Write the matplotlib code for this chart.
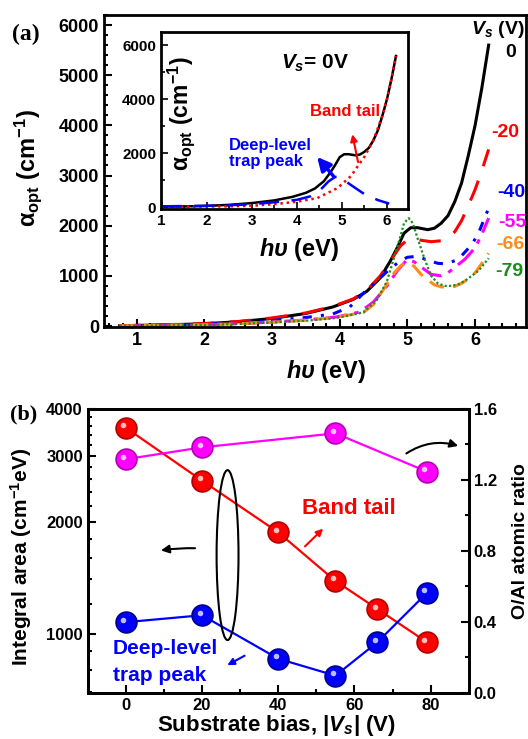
import matplotlib
matplotlib.use("Agg")
import matplotlib.pyplot as plt
import matplotlib.transforms as mtransforms
from matplotlib.patches import Ellipse
from matplotlib.ticker import MultipleLocator, FixedLocator, NullFormatter
import numpy as np

plt.rcParams['font.family'] = ['Liberation Sans', 'DejaVu Sans']
plt.rcParams['font.weight'] = 'bold'
plt.rcParams['axes.labelweight'] = 'bold'
plt.rcParams['mathtext.fontset'] = 'custom'
plt.rcParams['mathtext.rm'] = 'Liberation Sans:bold'
plt.rcParams['mathtext.bf'] = 'Liberation Sans:bold'
plt.rcParams['mathtext.it'] = 'Liberation Sans:italic:bold'
plt.rcParams['axes.linewidth'] = 2.0

# ---------------- data, panel (a) ----------------
# absorption spectra for each substrate bias (eV, cm^-1)
x_0 = [0.75, 1.0, 1.5, 2.0, 2.5, 3.0, 3.5, 3.9, 4.2, 4.4, 4.6, 4.75, 4.85, 4.95, 5.05, 5.15, 5.3, 5.4,
       5.5, 5.6, 5.7, 5.8, 5.9, 6.0, 6.1, 6.2]
y_0 = [5, 12, 25, 45, 85, 150, 250, 380, 530, 690, 960, 1300, 1560, 1850, 1960, 1960, 1920, 1950,
       2050, 2200, 2480, 2850, 3400, 4000, 4750, 5600]

x_20 = [0.75, 1.0, 1.5, 2.0, 2.5, 3.0, 3.5, 3.9, 4.2, 4.4, 4.6, 4.75, 4.9, 5.0, 5.1, 5.2, 5.35, 5.5,
        5.6, 5.7, 5.8, 5.9, 6.0, 6.1, 6.2]
y_20 = [5, 12, 28, 50, 90, 160, 260, 390, 540, 710, 1000, 1300, 1600, 1720, 1740, 1710, 1680, 1700,
        1760, 1880, 2100, 2400, 2720, 3100, 3520]

x_40 = [0.75, 1.0, 1.5, 2.0, 2.5, 3.0, 3.5, 3.9, 4.15, 4.4, 4.6, 4.75, 4.9, 5.0, 5.15, 5.3, 5.45,
        5.55, 5.7, 5.8, 5.95, 6.05, 6.2]
y_40 = [5, 10, 20, 35, 60, 110, 170, 240, 380, 720, 960, 1150, 1300, 1370, 1390, 1310, 1250,
        1240, 1300, 1400, 1620, 1850, 2350]

x_55 = [0.75, 1.0, 1.5, 2.0, 2.5, 3.0, 3.5, 3.95, 4.3, 4.5, 4.7, 4.85, 5.0, 5.1, 5.25, 5.35, 5.5,
        5.6, 5.7, 5.85, 6.0, 6.1, 6.2]
y_55 = [3, 8, 15, 25, 45, 80, 120, 180, 280, 480, 800, 1100, 1330, 1280, 1130, 1030, 1000,
        1060, 1170, 1330, 1560, 1830, 2150]

x_66 = [0.75, 1.0, 1.5, 2.0, 2.5, 3.0, 3.5, 3.95, 4.35, 4.5, 4.65, 4.8, 4.9, 5.0, 5.1, 5.2, 5.3,
        5.4, 5.5, 5.6, 5.7, 5.8, 5.9, 6.0, 6.1, 6.2]
y_66 = [3, 8, 15, 25, 45, 75, 115, 175, 272, 430, 735, 1050, 1200, 1270, 1190, 1030, 920,
        820, 780, 770, 790, 850, 940, 1060, 1250, 1450]

x_79 = [0.75, 1.0, 1.5, 2.0, 2.5, 3.0, 3.5, 3.95, 4.35, 4.55, 4.7, 4.8, 4.9, 4.95, 5.02, 5.08,
        5.15, 5.25, 5.35, 5.45, 5.55, 5.65, 5.75, 5.85, 5.95, 6.05, 6.2]
y_79 = [3, 8, 14, 22, 40, 70, 105, 160, 270, 520, 900, 1350, 1800, 2050, 2150, 2050,
        1750, 1350, 1000, 850, 800, 800, 830, 900, 1000, 1100, 1350]

# inset: decomposition of the 0 V spectrum
x_tail = [1.0, 1.5, 2.0, 2.5, 3.0, 3.5, 4.0, 4.45, 4.9, 5.2, 5.5, 5.7, 5.9, 6.0, 6.1, 6.2]
y_tail = [5, 10, 20, 30, 50, 110, 200, 333, 704, 1150, 1870, 2480, 3400, 4000, 4750, 5600]
x_trap = [1.0, 1.5, 2.0, 2.5, 3.0, 3.5, 4.0, 4.3, 4.5, 4.7, 4.85, 4.95, 5.2, 5.5, 5.8, 6.05]
y_trap = [30, 40, 50, 70, 110, 180, 270, 400, 600, 950, 1120, 1110, 820, 480, 260, 130]

# ---------------- data, panel (b) ----------------
bias = [0, 20, 40, 55, 66, 79]
band_tail_area = [3565, 2574, 1871, 1387, 1167, 951]
trap_area = [1076, 1123, 859, 774, 951, 1289]
bias_oal = [0, 20, 55, 79]
o_al_ratio = [1.317, 1.384, 1.463, 1.247]

fig = plt.figure(figsize=(5.28, 7.39), dpi=100)

# ---------------- panel (a) ----------------
ax = fig.add_axes([0.197, 0.5575, 0.799, 0.4222])
ax.plot(x_0, y_0, color='black', lw=2.2, ls='-')
ax.plot(x_20, y_20, color='#ff0000', lw=2.2, ls=(0, (7, 5)))
ax.plot(x_40, y_40, color='#0000ff', lw=2.2, ls=(0, (3, 3, 1, 3)))
ax.plot(x_55, y_55, color='#ff00ff', lw=2.2, ls=(0, (7, 2.5, 1.5, 2.5)))
ax.plot(x_66, y_66, color='#ff8c1a', lw=2.2, ls=(0, (5, 3)))
ax.plot(x_79, y_79, color='#1a8c1a', lw=1.6, ls=(0, (1, 1)))
ax.set_xlim(0.52, 6.75)
ax.set_ylim(-20, 6200)
ax.xaxis.set_major_locator(MultipleLocator(1))
ax.xaxis.set_minor_locator(MultipleLocator(0.2))
ax.yaxis.set_major_locator(MultipleLocator(1000))
ax.yaxis.set_minor_locator(MultipleLocator(200))
ax.tick_params(which='both', direction='in', width=1.5, labelsize=13)
ax.tick_params(which='major', length=6)
ax.tick_params(which='minor', length=3)
ax.set_ylabel(r'$\mathrm{\alpha_{opt}}$ (cm$^{\mathrm{-1}}$)', fontsize=17)
ax.yaxis.set_label_coords(-0.142, 0.51)
ax.set_xlabel(r'$h\upsilon$ (eV)', fontsize=17)
ax.xaxis.set_label_coords(0.526, -0.10)

ax.text(5.94, 5905, r'$V_s$ (V)', fontsize=14, ha='left', va='center')
ax.text(6.44, 5447, '0', fontsize=14, ha='left', va='center', color='black')
ax.text(6.236, 3857, '-20', fontsize=14, ha='left', va='center', color='#ff0000')
ax.text(6.325, 2664, '-40', fontsize=14, ha='left', va='center', color='#0000ff')
ax.text(6.34, 2068, '-55', fontsize=14, ha='left', va='center', color='#ff00ff')
ax.text(6.31, 1630, '-66', fontsize=14, ha='left', va='center', color='#ff8c1a')
ax.text(6.295, 1093, '-79', fontsize=14, ha='left', va='center', color='#1a8c1a')

fig.text(0.022, 0.946, '(a)', fontsize=17, family='Liberation Serif', weight='bold')

# inset
axi = fig.add_axes([0.305, 0.7168, 0.468, 0.2403])
axi.plot(x_0, y_0, color='black', lw=1.8)
axi.plot(x_tail, y_tail, color='#ff0000', lw=1.8, ls=(0, (1, 1.5)))
axi.plot(x_trap, y_trap, color='#0000ff', lw=1.8, ls=(0, (8, 5)))
axi.set_xlim(0.985, 6.47)
axi.set_ylim(-80, 6500)
axi.xaxis.set_major_locator(MultipleLocator(1))
axi.xaxis.set_minor_locator(MultipleLocator(0.5))
axi.yaxis.set_major_locator(MultipleLocator(2000))
axi.yaxis.set_minor_locator(MultipleLocator(1000))
axi.tick_params(which='both', direction='in', width=1.2, labelsize=11)
axi.tick_params(which='major', length=5)
axi.tick_params(which='minor', length=3)
axi.set_ylabel(r'$\mathrm{\alpha_{opt}}$ (cm$^{\mathrm{-1}}$)', fontsize=16.5)
axi.yaxis.set_label_coords(0.146, 0.54)
axi.set_xlabel(r'$h\upsilon$ (eV)', fontsize=17)
axi.xaxis.set_label_coords(0.558, -0.15)
axi.text(3.65, 5340, r'$V_s$= 0V', fontsize=15, ha='left', va='center')
axi.text(4.3, 3530, 'Band tail', fontsize=12, color='#ff0000', ha='left', va='center')
axi.text(2.5, 2000, 'Deep-level\ntrap peak', fontsize=12, color='#0000ff', ha='left',
         va='center', linespacing=1.1)
axi.annotate('', xy=(5.22, 2800), xytext=(5.37, 1567),
             arrowprops=dict(arrowstyle='-|>', color='#ff0000', lw=1.5, mutation_scale=10))
axi.annotate('', xy=(4.41, 1937), xytext=(4.85, 1074),
             arrowprops=dict(arrowstyle='-|>', color='#0000ff', lw=2.5, mutation_scale=20))

# ---------------- panel (b) ----------------
axb = fig.add_axes([0.166, 0.0627, 0.722, 0.3838])
axb.set_yscale('log')
axb.set_xlim(-10, 90)
axb.set_ylim(697, 4000)
axr = axb.twinx()
axr.set_ylim(0, 1.6)


def balls(a, x, y, color, edge):
    a.plot(x, y, color=color, lw=1.6, marker='o', ms=15, mfc=color, mec=edge, mew=1.2, zorder=3)
    shift = mtransforms.offset_copy(a.transData, fig=fig, x=-2.5, y=2.5, units='dots')
    a.plot(x, y, ls='none', marker='o', ms=4, mfc='white', mec='none', alpha=0.75,
           transform=shift, zorder=4)


balls(axb, bias, band_tail_area, '#ff0000', '#b00000')
balls(axb, bias, trap_area, '#0000ff', '#00008a')
balls(axr, bias_oal, o_al_ratio, '#ff00ff', '#b000b0')

axb.yaxis.set_major_locator(FixedLocator([1000, 2000, 3000, 4000]))
axb.yaxis.set_major_formatter(plt.FuncFormatter(lambda v, p: '%d' % v))
axb.yaxis.set_minor_locator(FixedLocator([700, 800, 900, 1200, 1400, 1600, 1800, 2200, 2400,
                                          2600, 2800, 3200, 3400, 3600, 3800]))
axb.yaxis.set_minor_formatter(NullFormatter())
axb.xaxis.set_major_locator(MultipleLocator(20))
axb.xaxis.set_minor_locator(MultipleLocator(10))
axr.yaxis.set_major_locator(MultipleLocator(0.4))
axr.yaxis.set_minor_locator(MultipleLocator(0.2))
axr.yaxis.set_major_formatter(plt.FuncFormatter(lambda v, p: '%.1f' % v))
for a in (axb, axr):
    a.tick_params(which='both', direction='in', width=1.5, labelsize=12)
    a.tick_params(which='major', length=6)
    a.tick_params(which='minor', length=3)

axb.set_ylabel(r'Integral area (cm$^{\mathrm{-1}}$eV)', fontsize=15)
axb.yaxis.set_label_coords(-0.14, 0.478)
axr.set_ylabel('O/Al atomic ratio', fontsize=14)
axr.yaxis.set_label_coords(1.112, 0.535)
axb.set_xlabel(r'Substrate bias, $|$$V_s$$|$ (V)', fontsize=16)
axb.xaxis.set_label_coords(0.494, -0.07)

axb.text(0.686, 0.651, 'Band tail', transform=axb.transAxes, fontsize=16, color='#ff0000',
         ha='center', va='center')
axb.text(0.066, 0.156, 'Deep-level', transform=axb.transAxes, fontsize=15, color='#0000ff',
         ha='left', va='center')
axb.text(0.066, 0.062, 'trap peak', transform=axb.transAxes, fontsize=15, color='#0000ff',
         ha='left', va='center')
axb.add_patch(Ellipse((0.367, 0.485), 0.0575, 0.599, transform=axb.transAxes, fill=False,
                      ec='black', lw=1.5, zorder=5))
axb.annotate('', xy=(0.185, 0.500), xytext=(0.289, 0.509), xycoords='axes fraction',
             arrowprops=dict(arrowstyle='-|>', color='black', lw=1.5, mutation_scale=12,
                             connectionstyle='arc3,rad=0.05'))
axb.annotate('', xy=(0.979, 0.867), xytext=(0.830, 0.838), xycoords='axes fraction',
             arrowprops=dict(arrowstyle='-|>', color='black', lw=1.5, mutation_scale=12,
                             connectionstyle='arc3,rad=-0.25'))
axb.annotate('', xy=(0.623, 0.585), xytext=(0.565, 0.509), xycoords='axes fraction',
             arrowprops=dict(arrowstyle='-|>', color='#ff0000', lw=1.5, mutation_scale=10))
axb.annotate('', xy=(0.360, 0.092), xytext=(0.418, 0.135), xycoords='axes fraction',
             arrowprops=dict(arrowstyle='-|>', color='#0000ff', lw=1.5, mutation_scale=10))

fig.text(0.018, 0.432, '(b)', fontsize=16, family='Liberation Serif', weight='bold')

fig.savefig('out.png', dpi=100)
